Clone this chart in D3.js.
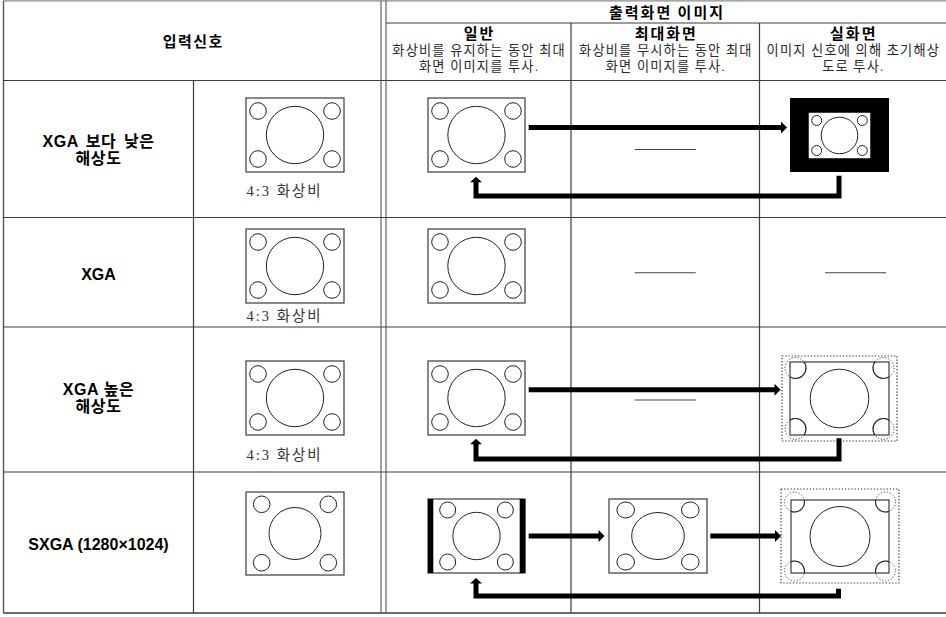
<!DOCTYPE html>
<html>
<head>
<meta charset="utf-8">
<script src="https://cdn.jsdelivr.net/npm/d3@7"></script>
<style>
  html, body { margin: 0; padding: 0; background: #fff; }
  svg { display: block; }
</style>
</head>
<body>
<svg id="chart" width="946" height="617"></svg>
<script>
// ---------- content (text & structure) ----------
const headerTitles = ["입력신호", "출력화면 이미지"];
const modeNames = ["일반", "최대화면", "실화면"];
const modeNotes = [
  ["화상비를 유지하는 동안 최대", "화면 이미지를 투사."],
  ["화상비를 무시하는 동안 최대", "화면 이미지를 투사."],
  ["이미지 신호에 의해 초기해상", "도로 투사."]
];
const inputSignals = [
  ["XGA 보다 낮은", "해상도"],
  ["XGA"],
  ["XGA 높은", "해상도"],
  ["SXGA (1280×1024)"]
];
const aspectLabels = ["4:3 화상비", "4:3 화상비", "4:3 화상비", ""];
const inputKinds = ["r43", "r43", "r43", "r54"];
const cellKinds = [
  ["fit", "none", "boxed"],
  ["fit", "none", "none"],
  ["fit", "none", "cropped"],
  ["pillar", "stretched", "cropped54"]
];
// order in which the modes cycle for each row (arrows)
const modeCycles = [[0, 2], [], [0, 2], [0, 1, 2]];

// ---------- layout ----------
const svg = d3.select("#chart");
svg.append("rect").attr("width", 946).attr("height", 617).attr("fill", "#fff");

const colX = d3.scaleOrdinal()
  .domain(["left", "label", "inputImg", "dbl1", "dbl2", "m0", "m1", "m2", "right"])
  .range([3.5, 3.5, 193.5, 381, 386, 386, 571, 759.5, 946]);
const rowY = d3.scaleOrdinal().domain([0, 1, 2, 3, 4]).range([80.5, 217.5, 327, 472, 613]);
const modeX0 = d3.scaleOrdinal().domain([0, 1, 2]).range([colX("m0"), colX("m1"), colX("m2")]);
const modeX1 = d3.scaleOrdinal().domain([0, 1, 2]).range([colX("m1"), colX("m2"), colX("right")]);
const modeCx = m => (modeX0(m) + modeX1(m)) / 2;

const LINE = "#3c3c3c";
const g = svg.append("g");

// ---------- grid ----------
function hline(x1, x2, y, c = LINE, w = 1.2) {
  g.append("line").attr("x1", x1).attr("x2", x2).attr("y1", y).attr("y2", y)
    .attr("stroke", c).attr("stroke-width", w);
}
function vline(x, y1, y2, c = LINE, w = 1.2) {
  g.append("line").attr("x1", x).attr("x2", x).attr("y1", y1).attr("y2", y2)
    .attr("stroke", c).attr("stroke-width", w);
}
hline(3.5, 946, 0.8, "#8a8a8a", 1.2);
hline(3.5, 946, rowY(4), LINE, 1.4);
vline(colX("left"), 0.8, rowY(4), "#555", 1.4);
[0, 1, 2, 3].forEach(i => hline(3.5, 946, rowY(i)));
hline(colX("dbl2"), 946, 23);
vline(colX("inputImg"), rowY(0), rowY(4));
vline(colX("dbl1"), 0.8, rowY(4), "#555", 1.1);
vline(colX("dbl2"), 0.8, rowY(4), "#555", 1.1);
vline(colX("m1"), 23, rowY(4));
vline(colX("m2"), 23, rowY(4));

// ---------- header texts ----------
const CJK = "'Noto Sans CJK KR', 'Noto Sans', sans-serif";
const SERIF = "'Liberation Serif', 'Noto Sans CJK KR', serif";
g.append("text").attr("x", (colX("left") + colX("dbl1")) / 2 + 1).attr("y", 47)
  .attr("text-anchor", "middle").attr("font-family", CJK).attr("font-weight", "bold")
  .attr("font-size", 15).attr("letter-spacing", 1.5).text(headerTitles[0]);
g.append("text").attr("x", (colX("dbl2") + colX("right")) / 2 + 1).attr("y", 18)
  .attr("text-anchor", "middle").attr("font-family", CJK).attr("font-weight", "bold")
  .attr("font-size", 15).attr("letter-spacing", 2).text(headerTitles[1]);
modeNames.forEach((name, m) => {
  g.append("text").attr("x", modeCx(m) + 1).attr("y", 38.5)
    .attr("text-anchor", "middle").attr("font-family", CJK).attr("font-weight", "bold")
    .attr("font-size", 15).attr("letter-spacing", 2).text(name);
  modeNotes[m].forEach((ln, k) => {
    g.append("text").attr("x", modeCx(m) + 0.6).attr("y", 55 + k * 16.4)
      .attr("text-anchor", "middle").attr("font-family", SERIF)
      .attr("font-size", 13.2).attr("letter-spacing", 1.2).attr("fill", "#2a2a2a").text(ln);
  });
});

// ---------- row labels ----------
const labelBase = [[147, 164], [280], [395, 412], [549.5]];
inputSignals.forEach((lines, r) => {
  lines.forEach((ln, k) => {
    g.append("text").attr("x", 98.5).attr("y", labelBase[r][k])
      .attr("text-anchor", "middle")
      .attr("font-family", "'Liberation Sans', Arial, 'Noto Sans CJK KR', sans-serif")
      .attr("font-weight", "bold").attr("font-size", 16)
      .attr("word-spacing", r === 0 && k === 0 ? 2.5 : 0)
      .attr("letter-spacing", /[가-힣]/.test(ln) ? 0.6 : 0)
      .text(ln);
  });
});

// ---------- screen glyphs ----------
function screen(x, y, w, h, o) {
  const s = g.append("g");
  s.append("rect").attr("x", x).attr("y", y).attr("width", w).attr("height", h)
    .attr("fill", o.fill || "#fff").attr("stroke", o.stroke || "#3a3a3a").attr("stroke-width", o.sw || 1.2);
  const cx = x + w / 2, cy = y + h / 2;
  s.append("ellipse").attr("cx", cx).attr("cy", cy).attr("rx", o.R).attr("ry", o.Ry || o.R)
    .attr("fill", "none").attr("stroke", "#222").attr("stroke-width", 1);
  const pts = [[x + o.dx, y + o.dy], [x + w - o.dx, y + o.dy], [x + o.dx, y + h - o.dy], [x + w - o.dx, y + h - o.dy]];
  pts.forEach(p => s.append("ellipse").attr("cx", p[0]).attr("cy", p[1])
    .attr("rx", o.r).attr("ry", o.ry || o.r).attr("fill", "none").attr("stroke", "#222").attr("stroke-width", 1));
  return s;
}

let clipId = 0;
function cropped(ox, oy, ow, oh, x, y, w, h, R, r, dx, dy) {
  // dotted full image + solid visible part
  const s = g.append("g");
  s.append("rect").attr("x", ox).attr("y", oy).attr("width", ow).attr("height", oh)
    .attr("fill", "none").attr("stroke", "#333").attr("stroke-width", 1.2).attr("stroke-dasharray", "1.3,1.9");
  s.append("rect").attr("x", x).attr("y", y).attr("width", w).attr("height", h)
    .attr("fill", "#fff").attr("stroke", "#3a3a3a").attr("stroke-width", 1.2);
  const id = "clip" + (clipId++);
  svg.append("clipPath").attr("id", id).append("rect").attr("x", x).attr("y", y).attr("width", w).attr("height", h);
  const cx = x + w / 2, cy = y + h / 2;
  s.append("circle").attr("cx", cx).attr("cy", cy).attr("r", R)
    .attr("fill", "none").attr("stroke", "#222").attr("stroke-width", 1);
  const pts = [[x + dx, y + dy], [x + w - dx, y + dy], [x + dx, y + h - dy], [x + w - dx, y + h - dy]];
  pts.forEach(p => {
    s.append("circle").attr("cx", p[0]).attr("cy", p[1]).attr("r", r)
      .attr("fill", "none").attr("stroke", "#444").attr("stroke-width", 1).attr("stroke-dasharray", "1.2,1.8");
    s.append("circle").attr("cx", p[0]).attr("cy", p[1]).attr("r", r)
      .attr("clip-path", `url(#${id})`)
      .attr("fill", "none").attr("stroke", "#222").attr("stroke-width", 1.1);
  });
}

// box geometry per row (y top, height)
const boxY = [98, 229, 361, 499];
const boxH = 74;

// input images
inputKinds.forEach((k, r) => {
  if (k === "r43") {
    screen(246, boxY[r], 98, boxH, { R: 28.7, r: 8.3, dx: 12, dy: 13 });
  } else {
    screen(246, 492, 98, 83, { R: 26, r: 8.3, dx: 15.7, dy: 12.3 });
  }
  if (aspectLabels[r]) {
    const base = [196, 320.7, 459.5][r];
    g.append("text").attr("x", 246.5).attr("y", base)
      .attr("font-family", SERIF).attr("font-size", 14.5).attr("letter-spacing", 2)
      .attr("fill", "#333").text(aspectLabels[r]);
  }
});

// output cells
function rowCenter(r) { return (rowY(r) + rowY(r + 1)) / 2; }
cellKinds.forEach((kinds, r) => {
  kinds.forEach((k, m) => {
    if (k === "fit") {
      screen(428, boxY[r], 97, boxH, { R: 28.7, r: 8.3, dx: 12, dy: 13 });
    } else if (k === "none") {
      const cx = m === 2 ? 855.5 : modeCx(m);
      hline(cx - 30.5, cx + 30.5, rowCenter(r) + 0.5, "#444", 1.2);
    } else if (k === "boxed") {
      g.append("rect").attr("x", 790).attr("y", boxY[r]).attr("width", 99).attr("height", boxH).attr("fill", "#000");
      screen(809, 113, 61, 45, { R: 18.3, r: 5, dx: 7.7, dy: 7.5, stroke: "#fff", sw: 0.5 });
    } else if (k === "cropped") {
      cropped(782, 356, 115, 85, 790, 362, 99, 73, 29.3, 10.5, 5.5, 6);
    } else if (k === "cropped54") {
      cropped(781, 489, 118, 94, 791, 500, 98, 73, 30, 10, 3.5, 2);
    } else if (k === "pillar") {
      screen(428, boxY[r], 97, boxH, { R: 23.7, r: 8, dx: 19.7, dy: 11 });
      g.append("rect").attr("x", 428).attr("y", boxY[r]).attr("width", 5.3).attr("height", boxH).attr("fill", "#000");
      g.append("rect").attr("x", 519.7).attr("y", boxY[r]).attr("width", 5.6).attr("height", boxH).attr("fill", "#000");
    } else if (k === "stretched") {
      screen(609, boxY[r], 98, boxH, { R: 26.3, Ry: 23.5, r: 8.8, ry: 8, dx: 16.7, dy: 11 });
    }
  });
});

// ---------- arrows ----------
function headRight(xTip, y) {
  g.append("path").attr("d", `M${xTip - 6},${y - 6}L${xTip},${y}L${xTip - 6},${y + 6}Z`).attr("fill", "#000");
}
function headUp(x, yTip) {
  g.append("path").attr("d", `M${x - 6},${yTip + 5.5}L${x},${yTip}L${x + 6},${yTip + 5.5}Z`).attr("fill", "#000");
}
function thick(d) {
  g.append("path").attr("d", d).attr("fill", "none").attr("stroke", "#000")
    .attr("stroke-width", 5).attr("stroke-linejoin", "miter").attr("stroke-linecap", "butt");
}
const arrowGeom = [
  { y: 127.5, tips: { 2: 787 }, starts: { 0: 528.7 }, back: { x1: 839, yTop: 175.7, yH: 196, x0: 476, tip: 176.7 } },
  null,
  { y: 389.7, tips: { 2: 780.5 }, starts: { 0: 528.7 }, back: { x1: 839, yTop: 438.3, yH: 459, x0: 476, tip: 438.7 } },
  { y: 536, tips: { 1: 604.5, 2: 781 }, starts: { 0: 528.7, 1: 710.3 }, back: { x1: 838.5, yTop: 588.7, yH: 596, x0: 476, tip: 578 } }
];
modeCycles.forEach((cyc, r) => {
  if (!cyc.length) return;
  const a = arrowGeom[r];
  for (let i = 0; i < cyc.length - 1; i++) {
    const from = cyc[i], to = cyc[i + 1];
    const x0 = a.starts[from], xt = a.tips[to];
    thick(`M${x0},${a.y}H${xt - 5.5}`);
    headRight(xt, a.y);
  }
  const b = a.back;
  thick(`M${b.x1},${b.yTop}V${b.yH}H${b.x0}V${b.tip + 5}`);
  headUp(b.x0, b.tip);
});
</script>
</body>
</html>
